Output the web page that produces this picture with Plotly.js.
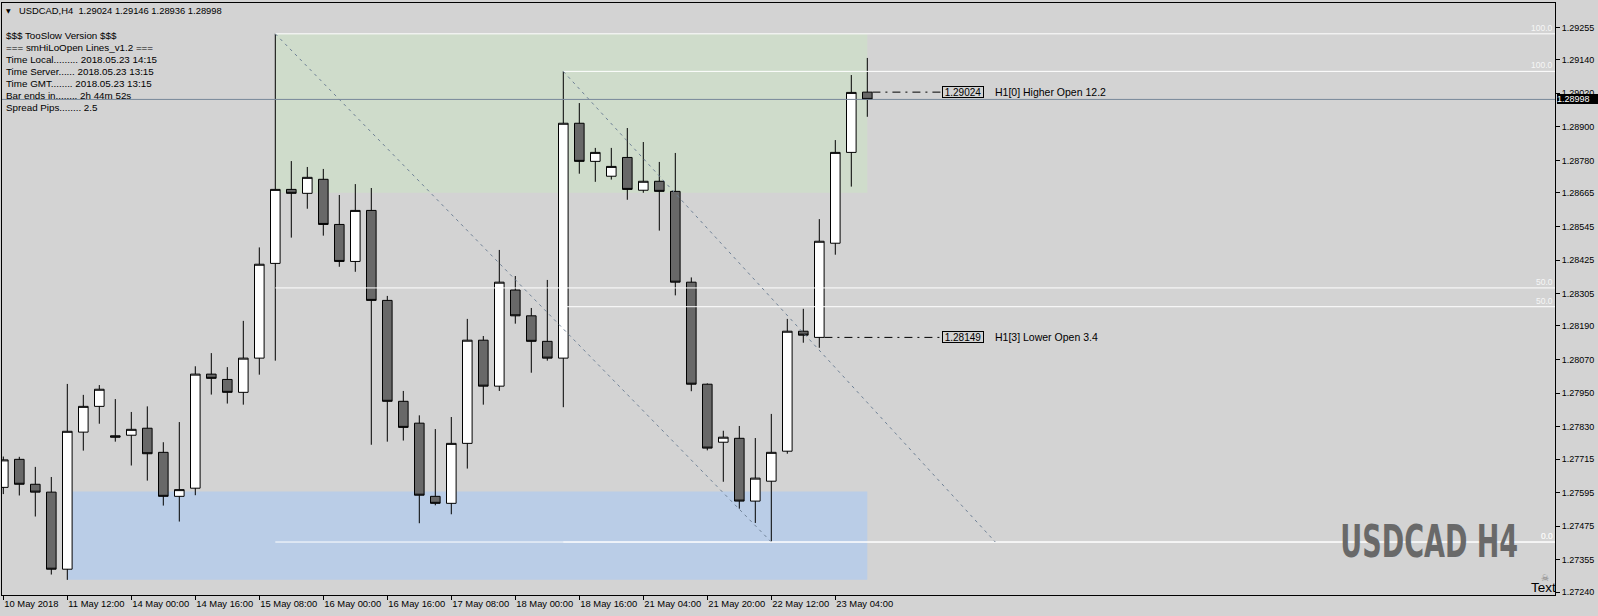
<!DOCTYPE html>
<html>
<head>
<meta charset="utf-8">
<script src="https://cdn.plot.ly/plotly-3.0.1.min.js"></script>
<style>
html,body{margin:0;padding:0;background:#d3d3d3;overflow:hidden;}
#chart{width:1598px;height:616px;}
</style>
</head>
<body>
<div id="chart"></div>
<script>
// ---------------- data ----------------
const openP  = [1.27614,1.27714,1.27625,1.27597,1.27322,1.27811,1.27903,1.27798,1.27800,1.27825,
                1.27739,1.27582,1.27611,1.28018,1.27999,1.27953,1.28075,1.28413,1.28677,1.28663,
                1.28713,1.28552,1.28420,1.28602,1.28281,1.27921,1.27843,1.27582,1.27557,1.27771,
                1.28139,1.27975,1.28318,1.28226,1.28135,1.28075,1.28913,1.28777,1.28724,1.28791,
                1.28674,1.28706,1.28670,1.28346,1.27982,1.27775,1.27789,1.27565,1.27636,1.27743,
                1.28171,1.28149,1.28485,1.28809,1.29024];
const highP  = [1.27724,1.27723,1.27687,1.27651,1.27983,1.27944,1.27979,1.27929,1.27883,1.27903,
                1.27775,1.27847,1.28046,1.28093,1.28043,1.28208,1.28470,1.29232,1.28778,1.28757,
                1.28750,1.28657,1.28696,1.28682,1.28297,1.27958,1.27871,1.27822,1.27865,1.28215,
                1.28154,1.28461,1.28368,1.28254,1.28354,1.29098,1.28985,1.28825,1.28825,1.28896,
                1.28846,1.28775,1.28807,1.28363,1.27985,1.27816,1.27833,1.27790,1.27876,1.28215,
                1.28251,1.28571,1.28853,1.29085,1.29146];
const lowP   = [1.27590,1.27585,1.27510,1.27303,1.27284,1.27745,1.27841,1.27777,1.27692,1.27638,
                1.27549,1.27492,1.27586,1.27945,1.27913,1.27909,1.28016,1.28066,1.28505,1.28608,
                1.28512,1.28401,1.28383,1.27766,1.27777,1.27781,1.27486,1.27550,1.27518,1.27681,
                1.27909,1.27958,1.28198,1.28023,1.28066,1.27900,1.28733,1.28704,1.28712,1.28640,
                1.28665,1.28530,1.28299,1.27957,1.27746,1.27634,1.27538,1.27487,1.27419,1.27734,
                1.28130,1.28112,1.28444,1.28687,1.28936];
const closeP = [1.27712,1.27625,1.27597,1.27322,1.27814,1.27903,1.27964,1.27793,1.27821,1.27734,
                1.27582,1.27606,1.28018,1.28003,1.27953,1.28075,1.28410,1.28677,1.28663,1.28720,
                1.28552,1.28420,1.28602,1.28281,1.27921,1.27828,1.27586,1.27557,1.27771,1.28139,
                1.27975,1.28346,1.28226,1.28135,1.28075,1.28913,1.28777,1.28809,1.28759,1.28677,
                1.28706,1.28670,1.28346,1.27982,1.27754,1.27793,1.27565,1.27647,1.27739,1.28171,
                1.28157,1.28492,1.28809,1.29023,1.28998];

const xTickBars   = [0,4,8,12,16,20,24,28,32,36,40,44,48,52];
const xTickLabels = ['10 May 2018','11 May 12:00','14 May 00:00','14 May 16:00','15 May 08:00',
                     '16 May 00:00','16 May 16:00','17 May 08:00','18 May 00:00','18 May 16:00',
                     '21 May 04:00','21 May 20:00','22 May 12:00','23 May 04:00'];
const yTickValues = [1.29255,1.29140,1.29020,1.28900,1.28780,1.28665,1.28545,1.28425,1.28305,
                     1.28190,1.28070,1.27950,1.27830,1.27715,1.27595,1.27475,1.27355,1.27240];

// supply / demand zones: [startBar, endBar, low, high]
const zoneStartBars = [17, 4];
const zoneEndBars   = [54, 54];
const zoneLows      = [1.28665, 1.27284];
const zoneHighs     = [1.29232, 1.27599];

// fibonacci retracements: start bar, 100 level, 0 level, end bar of the diagonal
const fibStartBars  = [17, 35];
const fibHigh       = [1.29232, 1.29098];
const fibLow        = [1.27419, 1.27419];
const fibEndBars    = [48, 62];
const fibLevels     = [100, 50, 0];

// HiLo open lines
const openLineBars   = [54, 51];
const openLineLevels = [1.29024, 1.28149];
const openLineTexts  = ['H1[0] Higher Open 12.2', 'H1[3] Lower Open 3.4'];

const bidPrice = 1.28998;
const headerText = 'USDCAD,H4  1.29024 1.29146 1.28936 1.28998';
const infoLines = ['$$$ TooSlow Version $$$', '=== smHiLoOpen Lines_v1.2 ===',
                   'Time Local......... 2018.05.23 14:15', 'Time Server...... 2018.05.23 13:15',
                   'Time GMT........ 2018.05.23 13:15', 'Bar ends in........ 2h 44m 52s',
                   'Spread Pips........ 2.5'];
const watermark = 'USDCAD H4';

// ---------------- layout helpers ----------------
const W = 1598, H = 616;
const M = {l: 2, r: 43, t: 3, b: 21};
const plotW = W - M.l - M.r, plotH = H - M.t - M.b;
const px2x = px => (px - M.l) / plotW;          // paper x
const py2y = py => (H - M.b - py) / plotH;      // paper y
const xRange = [-0.081, -0.081 + plotW / 16];
const yRange = [1.27230, 1.29342];
const FONT = 'Liberation Sans, Arial, sans-serif';

const idx = openP.map((_, i) => i);

const trace = {
  type: 'candlestick', x: idx, open: openP, high: highP, low: lowP, close: closeP,
  increasing: {line: {color: '#000000', width: 1}, fillcolor: '#ffffff'},
  decreasing: {line: {color: '#000000', width: 1}, fillcolor: '#686868'},
  whiskerwidth: 0, hoverinfo: 'skip', showlegend: false
};

const shapes = [];
const annotations = [];

zoneStartBars.forEach((s, i) => {
  shapes.push({type: 'rect', xref: 'x', yref: 'y', x0: s, x1: zoneEndBars[i],
    y0: zoneLows[i], y1: zoneHighs[i], fillcolor: i === 0 ? '#cfdccb' : '#bacde7',
    line: {width: 0}, layer: 'below'});
});

fibStartBars.forEach((s, i) => {
  fibLevels.forEach(lv => {
    const y = fibLow[i] + (fibHigh[i] - fibLow[i]) * lv / 100;
    shapes.push({type: 'line', xref: 'x', yref: 'y', x0: s, x1: xRange[1], y0: y, y1: y,
      line: {color: '#ffffff', width: 1}, layer: 'above'});
    annotations.push({xref: 'paper', yref: 'y', x: px2x(1553), y: y, xanchor: 'right',
      yanchor: 'middle', yshift: 6, text: lv.toFixed(1), showarrow: false,
      font: {family: FONT, size: 8.5, color: '#f6f6f6'}, borderpad: 0, borderwidth: 0});
  });
  shapes.push({type: 'line', xref: 'x', yref: 'y', x0: s, x1: fibEndBars[i],
    y0: fibHigh[i], y1: fibLow[i], line: {color: '#6f8196', width: 1, dash: '3px,4px'}, layer: 'above'});
});

// bid line
shapes.push({type: 'line', xref: 'paper', yref: 'y', x0: 0, x1: 1, y0: bidPrice, y1: bidPrice,
  line: {color: '#778899', width: 1}, layer: 'above'});

// open lines + labels
const boxX = 58.67, textX = 62;
openLineBars.forEach((b, i) => {
  shapes.push({type: 'line', xref: 'x', yref: 'y', x0: b + 0.32, x1: boxX, y0: openLineLevels[i],
    y1: openLineLevels[i], line: {color: '#000000', width: 1, dash: '8px,5px,2px,5px'}, layer: 'above'});
  annotations.push({xref: 'x', yref: 'y', x: boxX, y: openLineLevels[i], xanchor: 'left',
    yanchor: 'middle', text: openLineLevels[i].toFixed(5), showarrow: false,
    font: {family: FONT, size: 10, color: '#000000'}, bordercolor: '#000000', borderwidth: 1,
    borderpad: 0, width: 40, height: 10, align: 'center'});
  annotations.push({xref: 'x', yref: 'y', x: textX, y: openLineLevels[i], xanchor: 'left',
    yanchor: 'middle', text: openLineTexts[i], showarrow: false,
    font: {family: FONT, size: 10.5, color: '#000000'}, borderpad: 0, borderwidth: 0});
});

// header
annotations.push({xref: 'paper', yref: 'paper', x: px2x(5.5), y: py2y(11), xanchor: 'left',
  yanchor: 'middle', text: '▼', showarrow: false, font: {family: 'DejaVu Sans', size: 6, color: '#000'},
  borderpad: 0, borderwidth: 0});
annotations.push({xref: 'paper', yref: 'paper', x: px2x(19), y: py2y(10.8), xanchor: 'left',
  yanchor: 'middle', text: headerText, showarrow: false, font: {family: FONT, size: 9.4, color: '#000'},
  borderpad: 0, borderwidth: 0});
infoLines.forEach((t, i) => {
  annotations.push({xref: 'paper', yref: 'paper', x: px2x(6), y: py2y(35.7 + i * 11.9),
    xanchor: 'left', yanchor: 'middle', text: t, showarrow: false,
    font: {family: FONT, size: 9.8, color: '#000'}, borderpad: 0, borderwidth: 0});
});

// bid price label on the axis
annotations.push({xref: 'paper', yref: 'y', x: px2x(1557), y: bidPrice, xanchor: 'left',
  yanchor: 'middle', text: bidPrice.toFixed(5), showarrow: false, bgcolor: '#000000',
  font: {family: FONT, size: 9, color: '#ffffff'}, borderpad: 0, borderwidth: 0,
  width: 41, height: 10, align: 'left'});

// watermark
annotations.push({xref: 'paper', yref: 'paper', x: px2x(1429.5), y: py2y(541), xanchor: 'center',
  yanchor: 'middle', text: watermark, showarrow: false,
  font: {family: 'Liberation Sans Narrow, DejaVu Sans Condensed, Liberation Sans, sans-serif', size: 44, color: '#696969', weight: 'bold'},
  borderpad: 0, borderwidth: 0});

// Text label & skull
annotations.push({xref: 'paper', yref: 'paper', x: px2x(1555.5), y: py2y(587), xanchor: 'right',
  yanchor: 'middle', text: 'Text', showarrow: false, font: {family: FONT, size: 13.5, color: '#000'},
  borderpad: 0, borderwidth: 0});
annotations.push({xref: 'paper', yref: 'paper', x: px2x(1545), y: py2y(578), xanchor: 'center',
  yanchor: 'middle', text: '☠', showarrow: false, font: {family: 'DejaVu Sans', size: 9, color: '#7a7a7a'},
  borderpad: 0, borderwidth: 0});

const layout = {
  width: W, height: H,
  margin: {l: M.l, r: M.r, t: M.t, b: M.b, pad: 0, autoexpand: false},
  paper_bgcolor: '#d3d3d3', plot_bgcolor: '#d3d3d3',
  showlegend: false, dragmode: false, hovermode: false,
  boxgap: 0.4, boxgroupgap: 0,
  font: {family: FONT, color: '#000'},
  xaxis: {
    range: xRange, showgrid: false, zeroline: false, showline: true, mirror: true,
    linecolor: '#000', linewidth: 1, ticks: 'outside', ticklen: 4, tickcolor: '#000', tickwidth: 1,
    tickmode: 'array', tickvals: xTickBars, ticktext: xTickLabels, ticklabelposition: 'outside right',
    tickangle: 0,
    tickfont: {family: FONT, size: 9.4, color: '#000'}, rangeslider: {visible: false}, fixedrange: true
  },
  yaxis: {
    side: 'right', range: yRange, showgrid: false, zeroline: false, showline: true, mirror: true,
    linecolor: '#000', linewidth: 1, ticks: 'outside', ticklen: 4, tickcolor: '#000', tickwidth: 1,
    tickmode: 'array', tickvals: yTickValues, ticktext: yTickValues.map(v => v.toFixed(5)),
    tickfont: {family: FONT, size: 9, color: '#000'}, fixedrange: true
  },
  shapes: shapes, annotations: annotations
};

Plotly.newPlot('chart', [trace], layout, {displayModeBar: false, staticPlot: true}).then(() => {
  // condense the watermark horizontally to the width of the original heavy narrow face
  document.querySelectorAll('.annotation-text').forEach(t => {
    if (t.textContent === watermark) {
      const bb = t.getBBox();
      const s = 178 / bb.width;
      t.style.transformBox = 'fill-box';
      t.style.transformOrigin = 'center';
      t.style.transform = 'scaleX(' + s.toFixed(3) + ')';
    }
  });
});
</script>
</body>
</html>
